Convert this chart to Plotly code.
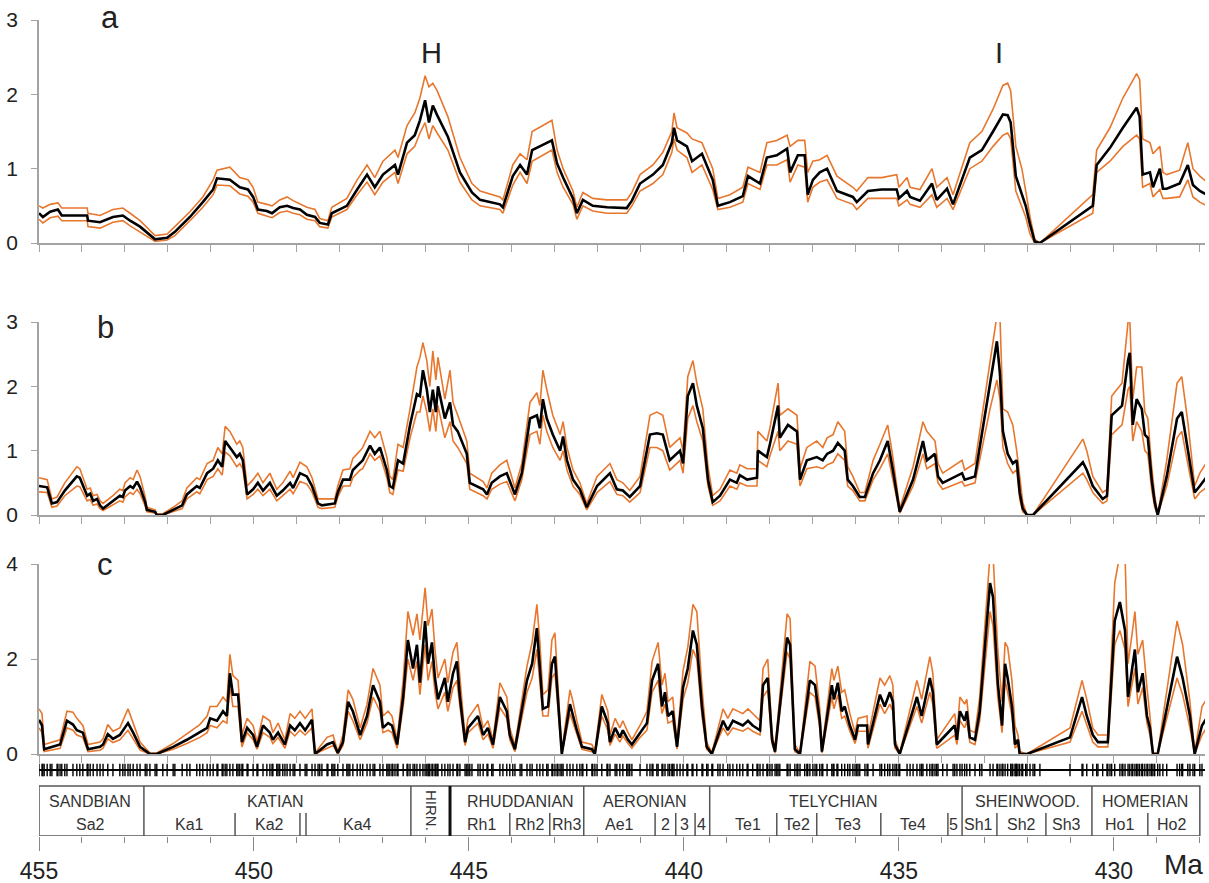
import plotly.graph_objects as go

# ---------------- data (ages in Ma) ----------------
age_a = [455.00,454.91,454.74,454.56,454.47,453.88,453.86,453.58,453.28,453.05,
452.88,452.65,452.30,452.02,451.84,451.49,451.19,450.95,450.86,450.56,
450.33,450.14,450.02,449.91,449.70,449.58,449.40,449.23,449.09,448.93,
448.77,448.58,448.47,448.28,448.19,447.84,447.60,447.37,447.19,447.00,
446.72,446.65,446.44,446.26,446.14,446.02,445.93,445.84,445.74,445.49,
445.21,444.93,444.74,444.28,444.21,443.98,443.81,443.65,443.53,443.28,
443.07,442.95,442.81,442.58,442.49,442.35,442.12,441.79,441.33,441.21,
441.02,440.72,440.49,440.28,440.23,440.16,439.93,439.81,439.58,439.33,
439.21,438.93,438.63,438.51,438.23,438.07,437.84,437.60,437.53,437.35,
437.19,437.12,437.00,436.84,436.67,436.44,436.07,435.98,435.72,435.40,
435.05,435.00,434.81,434.74,434.51,434.23,434.12,433.88,433.74,433.35,
433.07,432.81,432.58,432.47,432.40,432.28,432.14,432.05,431.95,431.84,
431.72,430.49,430.40,430.09,429.79,429.47,429.40,429.33,429.16,429.09,
428.93,428.86,428.77,428.47,428.28,428.16,428.00,427.84]
mid_a = [0.40,0.35,0.42,0.45,0.37,0.37,0.30,0.28,0.35,0.37,
0.30,0.22,0.05,0.07,0.15,0.35,0.55,0.72,0.87,0.85,
0.75,0.72,0.62,0.45,0.43,0.40,0.48,0.50,0.47,0.45,
0.38,0.35,0.27,0.25,0.40,0.50,0.72,0.92,0.75,0.92,
1.05,0.92,1.35,1.45,1.65,1.92,1.62,1.85,1.72,1.43,
0.95,0.68,0.58,0.52,0.48,0.90,1.05,0.92,1.25,1.32,
1.38,1.07,0.88,0.60,0.40,0.58,0.50,0.48,0.47,0.57,
0.80,0.92,1.05,1.35,1.55,1.38,1.30,1.10,1.20,0.85,
0.50,0.55,0.63,0.90,0.80,1.15,1.18,1.27,0.95,1.18,
1.18,0.65,0.85,0.95,1.00,0.70,0.62,0.55,0.70,0.72,
0.72,0.60,0.70,0.62,0.57,0.80,0.58,0.73,0.52,1.15,
1.25,1.50,1.73,1.72,1.62,0.90,0.65,0.50,0.25,0.02,
0.00,0.50,1.05,1.28,1.55,1.82,1.70,0.92,0.95,0.75,
1.00,0.73,0.73,0.80,1.05,0.78,0.70,0.65]
hi_a = [0.50,0.47,0.52,0.54,0.47,0.47,0.40,0.37,0.45,0.47,
0.40,0.30,0.10,0.12,0.22,0.42,0.62,0.85,0.98,1.02,
0.88,0.85,0.75,0.55,0.52,0.50,0.58,0.62,0.57,0.53,
0.48,0.45,0.33,0.30,0.48,0.60,0.85,1.05,0.88,1.10,
1.25,1.15,1.58,1.75,1.95,2.25,2.10,2.15,2.05,1.70,
1.15,0.80,0.70,0.62,0.58,1.05,1.20,1.12,1.50,1.58,
1.65,1.25,1.00,0.70,0.48,0.68,0.60,0.58,0.58,0.68,
0.92,1.05,1.22,1.50,1.75,1.55,1.48,1.40,1.35,1.00,
0.60,0.65,0.75,1.02,0.95,1.35,1.38,1.45,1.30,1.38,
1.38,0.95,1.10,1.12,1.18,0.90,0.75,0.70,0.88,0.88,
0.92,0.75,0.88,0.75,0.72,1.00,0.75,0.88,0.65,1.35,
1.50,1.80,2.12,2.15,2.05,1.30,1.00,0.70,0.35,0.05,
0.00,0.65,1.25,1.55,1.95,2.28,2.20,1.40,1.35,1.20,
1.30,0.95,0.92,0.98,1.35,1.00,0.90,0.82]
lo_a = [0.32,0.27,0.34,0.36,0.30,0.30,0.22,0.20,0.28,0.30,
0.23,0.15,0.02,0.04,0.10,0.30,0.48,0.65,0.78,0.77,
0.66,0.63,0.55,0.40,0.36,0.34,0.41,0.43,0.40,0.38,
0.32,0.30,0.22,0.20,0.35,0.45,0.65,0.82,0.65,0.82,
0.95,0.80,1.20,1.30,1.48,1.62,1.40,1.58,1.48,1.25,
0.82,0.58,0.50,0.45,0.40,0.78,0.95,0.80,1.10,1.18,
1.25,0.95,0.75,0.52,0.32,0.50,0.43,0.40,0.40,0.50,
0.70,0.80,0.92,1.22,1.40,1.25,1.15,0.95,1.05,0.72,
0.45,0.48,0.55,0.80,0.72,1.05,1.05,1.12,0.82,1.05,
1.02,0.55,0.75,0.82,0.85,0.60,0.52,0.45,0.60,0.60,
0.60,0.50,0.58,0.52,0.48,0.65,0.48,0.60,0.45,1.00,
1.10,1.30,1.45,1.48,1.40,0.70,0.50,0.35,0.12,0.00,
0.00,0.40,0.95,1.10,1.30,1.45,1.40,0.75,0.80,0.62,
0.72,0.60,0.60,0.62,0.85,0.62,0.55,0.50]

age_b = [455.00,454.81,454.70,454.58,454.40,454.12,454.05,453.88,453.81,453.74,
453.65,453.58,453.51,453.28,453.12,453.05,453.00,452.88,452.81,452.72,
452.65,452.53,452.49,452.30,452.26,452.12,451.88,451.67,451.56,451.33,
451.26,451.09,450.95,450.84,450.74,450.67,450.56,450.40,450.33,450.26,
450.16,450.02,449.91,449.79,449.63,449.47,449.33,449.16,449.09,448.93,
448.77,448.65,448.51,448.42,448.12,448.05,447.93,447.77,447.70,447.53,
447.47,447.30,447.19,447.07,447.00,446.91,446.84,446.77,446.65,446.53,
446.37,446.21,446.14,446.07,445.98,445.91,445.84,445.77,445.72,445.63,
445.56,445.44,445.37,445.26,445.05,444.98,444.67,444.58,444.47,444.28,
444.12,443.93,443.77,443.58,443.42,443.35,443.28,443.19,443.05,442.88,
442.81,442.72,442.58,442.42,442.26,442.02,441.72,441.56,441.42,441.26,
441.02,440.79,440.63,440.49,440.33,440.09,440.02,439.91,439.79,439.70,
439.56,439.44,439.33,439.16,438.93,438.77,438.70,438.53,438.30,438.28,
438.07,438.00,437.81,437.77,437.58,437.37,437.30,437.14,436.91,436.77,
436.67,436.53,436.42,436.26,436.19,436.07,435.91,435.79,435.60,435.44,
435.26,435.14,434.98,434.67,434.44,434.35,434.16,434.09,433.98,433.53,
433.47,433.23,432.88,432.72,432.65,432.58,432.47,432.35,432.26,432.19,
432.12,432.02,431.88,430.72,430.63,430.49,430.26,430.16,430.05,429.81,
429.67,429.63,429.56,429.47,429.35,429.28,429.21,429.12,429.05,428.98,
428.77,428.53,428.42,428.28,428.12,428.00,427.81]
mid_b = [0.45,0.43,0.18,0.20,0.38,0.60,0.58,0.30,0.33,0.22,
0.25,0.15,0.10,0.22,0.30,0.28,0.38,0.45,0.42,0.52,
0.43,0.20,0.08,0.05,0.00,0.00,0.08,0.15,0.32,0.45,
0.42,0.65,0.72,0.85,0.75,1.15,1.05,0.90,0.95,0.85,
0.32,0.40,0.50,0.38,0.50,0.30,0.38,0.50,0.42,0.65,
0.60,0.45,0.18,0.15,0.18,0.35,0.55,0.55,0.70,0.82,
0.85,1.08,0.95,1.05,0.90,0.70,0.45,0.42,0.85,0.80,
1.40,1.88,1.85,2.25,1.95,1.60,1.95,1.60,2.00,1.70,
1.50,1.75,1.40,1.30,0.95,0.50,0.40,0.32,0.50,0.60,
0.65,0.32,0.65,1.50,1.55,1.35,1.80,1.50,1.25,1.00,
1.22,0.85,0.55,0.40,0.12,0.45,0.65,0.40,0.38,0.28,
0.45,1.25,1.27,1.25,0.85,1.00,0.80,1.85,2.05,1.70,
1.35,0.55,0.20,0.30,0.55,0.50,0.62,0.55,0.58,1.00,
0.90,1.10,1.70,1.20,1.40,1.30,0.55,0.85,0.90,0.85,
0.95,1.00,1.12,1.00,0.55,0.45,0.28,0.28,0.65,0.85,
1.15,0.70,0.05,0.55,1.15,0.85,0.95,0.60,0.50,0.65,
0.55,0.60,2.00,2.70,2.20,1.30,0.95,0.80,0.85,0.35,
0.10,0.00,0.00,0.82,0.70,0.45,0.25,0.30,1.55,1.70,
2.40,2.52,1.40,1.80,1.65,1.25,1.20,0.55,0.20,0.00,
0.60,1.50,1.60,1.00,0.35,0.45,0.62]
hi_b = [0.58,0.55,0.25,0.28,0.50,0.75,0.72,0.40,0.42,0.30,
0.32,0.22,0.18,0.30,0.40,0.38,0.50,0.58,0.55,0.70,
0.60,0.28,0.12,0.08,0.02,0.02,0.12,0.22,0.42,0.58,
0.55,0.80,0.85,1.05,0.95,1.38,1.30,1.10,1.15,1.05,
0.45,0.55,0.65,0.50,0.65,0.40,0.50,0.68,0.58,0.82,
0.75,0.58,0.25,0.25,0.25,0.45,0.70,0.72,0.88,1.00,
1.05,1.30,1.20,1.30,1.12,0.90,0.60,0.55,1.10,1.05,
1.65,2.30,2.45,2.68,2.40,2.00,2.55,2.10,2.45,2.10,
1.80,2.25,1.75,1.55,1.15,0.65,0.52,0.42,0.65,0.78,
0.85,0.42,0.80,1.75,1.90,1.70,2.25,1.95,1.55,1.25,
1.45,1.05,0.70,0.50,0.18,0.60,0.80,0.55,0.50,0.38,
0.60,1.55,1.60,1.55,1.05,1.20,1.00,2.15,2.40,2.05,
1.65,0.75,0.30,0.40,0.70,0.65,0.78,0.72,0.72,1.30,
1.15,1.35,2.05,1.55,1.65,1.55,0.72,1.05,1.15,1.05,
1.20,1.25,1.45,1.30,0.75,0.60,0.35,0.35,0.85,1.10,
1.40,0.90,0.10,0.75,1.45,1.30,1.15,0.80,0.65,0.85,
0.70,0.80,2.40,3.10,3.10,1.65,1.60,1.40,1.00,0.55,
0.20,0.00,0.00,1.18,1.00,0.60,0.35,0.40,1.85,2.05,
3.00,3.05,1.80,2.30,2.30,1.60,1.50,0.75,0.30,0.00,
0.85,2.05,2.15,1.45,0.45,0.65,0.85]
lo_b = [0.36,0.35,0.12,0.14,0.30,0.45,0.44,0.22,0.24,0.15,
0.17,0.10,0.07,0.16,0.22,0.20,0.28,0.35,0.32,0.40,
0.33,0.14,0.05,0.03,0.00,0.00,0.05,0.10,0.25,0.36,
0.33,0.55,0.60,0.72,0.62,0.98,0.92,0.75,0.80,0.72,
0.25,0.32,0.40,0.30,0.40,0.22,0.30,0.40,0.33,0.52,
0.48,0.36,0.12,0.10,0.12,0.28,0.45,0.45,0.58,0.70,
0.72,0.95,0.85,0.92,0.78,0.58,0.35,0.32,0.70,0.68,
1.20,1.60,1.60,1.85,1.60,1.30,1.65,1.30,1.70,1.40,
1.20,1.45,1.15,1.05,0.80,0.40,0.30,0.25,0.40,0.48,
0.52,0.22,0.55,1.25,1.30,1.10,1.55,1.30,1.05,0.85,
1.00,0.70,0.45,0.32,0.08,0.35,0.52,0.32,0.30,0.20,
0.35,1.05,1.05,1.00,0.70,0.85,0.65,1.50,1.70,1.45,
1.15,0.45,0.15,0.22,0.45,0.40,0.50,0.45,0.45,0.85,
0.75,0.92,1.30,1.00,1.15,1.10,0.45,0.72,0.75,0.72,
0.78,0.82,0.95,0.85,0.45,0.38,0.22,0.22,0.55,0.72,
0.95,0.55,0.03,0.45,0.95,0.72,0.80,0.50,0.40,0.52,
0.45,0.50,1.65,2.10,1.80,1.05,0.80,0.65,0.70,0.25,
0.05,0.00,0.00,0.65,0.55,0.35,0.18,0.22,1.25,1.40,
1.95,2.00,1.15,1.45,1.30,1.00,0.95,0.40,0.12,0.00,
0.45,1.20,1.30,0.80,0.25,0.35,0.45]

age_c = [455.00,454.93,454.88,454.51,454.35,454.21,454.12,453.98,453.86,453.58,
453.51,453.40,453.28,453.12,452.93,452.81,452.65,452.42,452.26,451.88,
451.56,451.26,451.09,451.02,450.86,450.72,450.63,450.56,450.49,450.37,
450.28,450.16,450.02,449.93,449.79,449.63,449.56,449.44,449.28,449.16,
449.05,448.93,448.81,448.65,448.58,448.30,448.16,448.05,447.93,447.81,
447.70,447.53,447.37,447.23,447.07,447.00,446.88,446.79,446.67,446.53,
446.42,446.30,446.21,446.14,446.02,445.95,445.86,445.79,445.72,445.56,
445.49,445.37,445.28,445.21,445.09,445.02,444.79,444.67,444.56,444.44,
444.28,444.12,444.05,443.93,443.65,443.53,443.42,443.35,443.28,443.16,
443.07,443.00,442.93,442.84,442.65,442.58,442.49,442.37,442.14,442.07,
441.91,441.77,441.72,441.60,441.49,441.42,441.30,441.21,441.02,440.86,
440.74,440.60,440.51,440.44,440.37,440.26,440.16,440.02,439.91,439.79,
439.70,439.58,439.47,439.35,439.09,438.98,438.86,438.63,438.51,438.40,
438.23,438.16,438.05,437.95,437.88,437.60,437.53,437.42,437.30,437.07,
436.95,436.84,436.79,436.56,436.51,436.42,436.33,436.26,436.14,436.02,
435.95,435.74,435.72,435.44,435.33,435.21,435.14,435.09,434.98,434.58,
434.47,434.28,434.21,434.12,433.70,433.65,433.58,433.47,433.42,433.35,
433.23,433.12,432.88,432.81,432.70,432.60,432.53,432.47,432.37,432.30,
432.23,432.19,432.02,431.02,430.74,430.63,430.49,430.37,430.14,429.98,
429.86,429.74,429.67,429.58,429.51,429.44,429.33,429.23,429.16,429.09,
428.98,428.53,428.40,428.23,428.12,427.95,427.81]
mid_c = [0.72,0.60,0.10,0.20,0.70,0.62,0.50,0.45,0.10,0.15,
0.20,0.42,0.32,0.40,0.65,0.45,0.15,0.00,0.00,0.15,
0.30,0.45,0.55,0.75,0.70,0.90,0.80,1.70,1.25,1.25,
0.25,0.55,0.40,0.15,0.60,0.45,0.30,0.45,0.20,0.60,
0.50,0.65,0.50,0.72,0.00,0.20,0.25,0.02,0.25,1.10,
0.90,0.40,0.80,1.45,1.10,0.55,0.65,0.60,0.20,1.20,
2.40,1.80,2.30,1.50,2.80,1.90,2.35,1.60,1.15,1.60,
1.10,1.70,1.95,1.20,0.25,0.55,0.80,0.40,0.55,0.20,
1.20,0.90,0.40,0.10,1.55,1.90,2.65,1.80,0.95,1.00,
1.90,2.05,1.10,0.00,1.05,0.80,0.50,0.15,0.10,0.00,
1.00,0.65,0.25,0.55,0.35,0.50,0.30,0.20,0.45,0.65,
1.55,1.90,1.00,1.30,0.80,0.90,0.15,1.40,1.80,2.60,
2.30,1.00,0.15,0.00,0.70,0.50,0.70,0.60,0.70,0.60,
0.50,1.45,1.60,0.30,0.05,2.45,2.30,0.10,0.00,1.55,
1.45,0.70,0.05,1.45,1.15,1.50,0.90,1.00,0.60,0.30,
0.60,0.60,0.20,1.25,1.00,1.30,1.10,0.20,0.00,1.20,
0.80,1.60,1.30,0.20,0.60,0.30,0.90,0.70,0.90,0.35,
0.30,0.90,3.60,3.30,1.50,0.60,1.90,1.60,1.00,0.20,
0.30,0.00,0.00,0.35,1.20,0.80,0.40,0.25,0.25,2.80,
3.20,2.60,1.20,1.80,2.20,1.30,1.70,0.80,0.55,0.00,
0.00,2.05,1.60,0.80,0.00,0.60,0.80]
hi_c = [0.95,0.85,0.20,0.30,0.90,0.88,0.75,0.60,0.20,0.25,
0.32,0.62,0.48,0.55,0.95,0.65,0.25,0.02,0.02,0.22,
0.42,0.62,0.80,1.00,1.00,1.20,1.10,2.10,1.65,1.55,
0.40,0.75,0.60,0.25,0.80,0.70,0.45,0.65,0.30,0.85,
0.75,0.90,0.75,0.95,0.02,0.35,0.40,0.05,0.40,1.35,
1.15,0.55,1.05,1.80,1.45,0.80,0.90,0.80,0.30,1.55,
3.00,2.50,2.95,2.40,3.50,2.70,3.05,2.20,1.60,2.00,
1.50,2.15,2.35,1.55,0.35,0.75,1.05,0.55,0.70,0.30,
1.50,1.20,0.55,0.18,1.85,2.35,3.15,2.35,1.25,1.35,
2.40,2.55,1.50,0.05,1.35,1.10,0.70,0.25,0.20,0.05,
1.25,0.90,0.40,0.75,0.55,0.70,0.45,0.30,0.60,0.90,
1.95,2.35,1.45,1.70,1.10,1.20,0.25,1.75,2.25,3.15,
3.00,1.40,0.25,0.02,0.95,0.75,0.95,0.85,0.95,0.85,
0.70,1.80,2.00,0.45,0.10,2.95,2.85,0.20,0.02,1.95,
1.85,0.95,0.10,1.80,1.55,1.85,1.30,1.35,0.85,0.45,
0.75,0.80,0.35,1.60,1.45,1.65,1.45,0.30,0.02,1.55,
1.15,2.05,1.70,0.30,0.85,0.45,1.20,1.05,1.15,0.50,
0.45,1.20,4.20,4.20,2.20,1.10,2.35,2.25,1.55,0.60,
0.40,0.05,0.00,0.55,1.55,1.15,0.55,0.40,0.40,3.60,
4.20,4.20,1.90,2.50,3.00,2.10,2.40,1.40,0.80,0.02,
0.02,2.80,2.30,1.10,0.02,1.00,1.20]
lo_c = [0.55,0.45,0.05,0.12,0.55,0.50,0.40,0.35,0.05,0.08,
0.12,0.32,0.24,0.30,0.50,0.32,0.08,0.00,0.00,0.10,
0.22,0.35,0.45,0.60,0.55,0.70,0.65,1.45,1.00,1.00,
0.15,0.45,0.30,0.10,0.45,0.35,0.22,0.35,0.12,0.48,
0.38,0.50,0.40,0.55,0.00,0.12,0.18,0.00,0.18,0.90,
0.70,0.30,0.65,1.20,0.90,0.45,0.50,0.45,0.12,1.00,
2.00,1.55,1.95,1.25,2.30,1.55,1.95,1.30,0.95,1.30,
0.90,1.40,1.55,1.00,0.18,0.45,0.65,0.30,0.42,0.12,
0.98,0.75,0.30,0.05,1.30,1.60,2.20,1.50,0.80,0.80,
1.60,1.70,0.90,0.00,0.85,0.65,0.40,0.10,0.05,0.00,
0.80,0.50,0.18,0.42,0.25,0.38,0.22,0.12,0.35,0.50,
1.30,1.55,0.85,1.05,0.65,0.70,0.10,1.15,1.50,2.20,
2.00,0.80,0.10,0.00,0.55,0.40,0.55,0.48,0.55,0.48,
0.40,1.20,1.35,0.22,0.02,2.15,2.00,0.05,0.00,1.30,
1.20,0.55,0.02,1.20,0.95,1.25,0.75,0.80,0.48,0.22,
0.48,0.48,0.12,1.05,0.85,1.05,0.90,0.12,0.00,1.00,
0.65,1.30,1.05,0.12,0.40,0.20,0.70,0.55,0.70,0.25,
0.20,0.70,3.00,2.70,1.20,0.45,1.55,1.30,0.80,0.12,
0.20,0.00,0.00,0.25,0.90,0.60,0.25,0.15,0.15,2.30,
2.60,2.20,1.00,1.45,1.80,1.05,1.40,0.65,0.40,0.00,
0.00,1.60,1.25,0.55,0.00,0.40,0.60]

# stratigraphy
stage_bounds = [452.56, 446.35, 442.33, 439.40, 433.53, 430.51]
hirn_base = 445.44
substage_bounds = [450.44, 448.93, 448.79, 444.05, 443.12, 440.67, 440.19, 439.74,
                   437.84, 436.91, 435.42, 433.86, 432.72, 431.58, 429.21]
stage_names = ["SANDBIAN", "KATIAN", "RHUDDANIAN", "AERONIAN", "TELYCHIAN", "SHEINWOOD.", "HOMERIAN"]
stage_pos = [453.81, 449.51, 443.81, 440.91, 436.51, 432.02, 429.28]
sub_names = ["Sa2", "Ka1", "Ka2", "Ka4", "Rh1", "Rh2", "Rh3", "Ae1", "2", "3", "4",
             "Te1", "Te2", "Te3", "Te4", "5", "Sh1", "Sh2", "Sh3", "Ho1", "Ho2"]
sub_pos = [453.81, 451.49, 449.65, 447.60, 444.70, 443.58, 442.72, 441.49, 440.42, 439.98, 439.58,
           438.51, 437.37, 436.19, 434.67, 433.72, 433.14, 432.14, 431.09, 429.86, 428.65]
hirn_label_pos = 445.86
column_end = 428.0
rug_ages = sorted(set(age_a + age_b + age_c))

XR = [455.0, 427.88]
W, H = 1209, 883
ML, MR = 39, 4
ORANGE = "#E8772E"
GRAY = "#A3A3A3"
FONT = "Liberation Sans, Arial, sans-serif"

def pdom(top_px, bot_px):
    return [1 - bot_px / H, 1 - top_px / H]

fig = go.Figure()

panels = [
    ("x", "y", age_a, mid_a, hi_a, lo_a),
    ("x2", "y2", age_b, mid_b, hi_b, lo_b),
    ("x3", "y3", age_c, mid_c, hi_c, lo_c),
]
for xa, ya, ag, md, hi, lo in panels:
    fig.add_trace(go.Scatter(x=ag, y=lo, mode="lines", line=dict(color=ORANGE, width=1.6),
                             xaxis=xa, yaxis=ya, showlegend=False, hoverinfo="skip"))
    fig.add_trace(go.Scatter(x=ag, y=hi, mode="lines", line=dict(color=ORANGE, width=1.6),
                             xaxis=xa, yaxis=ya, showlegend=False, hoverinfo="skip"))
    fig.add_trace(go.Scatter(x=ag, y=md, mode="lines", line=dict(color="black", width=2.6),
                             xaxis=xa, yaxis=ya, showlegend=False, hoverinfo="skip"))

RUG_Y = 1.32
fig.add_trace(go.Scatter(x=rug_ages, y=[RUG_Y] * len(rug_ages), mode="markers",
                         marker=dict(symbol="line-ns-open", size=9, color="black",
                                     line=dict(color="black", width=1.4)),
                         xaxis="x4", yaxis="y4", showlegend=False, hoverinfo="skip"))

xcommon = dict(range=XR, showline=True, linecolor=GRAY, linewidth=1.5, ticks="outside",
               tick0=455, dtick=1, ticklen=7, tickwidth=1.3, tickcolor=GRAY,
               showticklabels=False, showgrid=False, zeroline=False, domain=[0, 1],
               automargin=False)
ycommon = dict(showline=True, linecolor=GRAY, linewidth=1.5, ticks="outside", ticklen=6,
               tickwidth=1.3, tickcolor=GRAY, showgrid=False, zeroline=False, automargin=False,
               tickfont=dict(family=FONT, size=21, color="#222"), ticklabelstandoff=9)

fig.update_layout(
    width=W, height=H, margin=dict(l=ML, r=MR, t=0, b=0, autoexpand=False),
    paper_bgcolor="white", plot_bgcolor="white", showlegend=False,
    xaxis=dict(anchor="y", **xcommon),
    xaxis2=dict(anchor="y2", **xcommon),
    xaxis3=dict(anchor="y3", **xcommon),
    xaxis4=dict(anchor="y4", range=XR, domain=[0, 1], showline=False, showgrid=False, zeroline=False,
                automargin=False,
                ticks="outside", tick0=455, dtick=5, ticklen=14, tickwidth=1.3, tickcolor="#888",
                minor=dict(ticks="outside", tick0=455, dtick=1, ticklen=6, tickwidth=1.3, tickcolor="#888"),
                tickfont=dict(family=FONT, size=23, color="#222"), ticklabelstandoff=0),
    yaxis=dict(anchor="x", domain=pdom(20, 243), range=[0, 3], tickvals=[0, 1, 2, 3], **ycommon),
    yaxis2=dict(anchor="x2", domain=pdom(322, 515), range=[0, 3], tickvals=[0, 1, 2, 3], **ycommon),
    yaxis3=dict(anchor="x3", domain=pdom(564, 754), range=[0, 4], tickvals=[0, 2, 4], **ycommon),
    yaxis4=dict(anchor="x4", domain=pdom(762, 836), range=[0, 1.48], visible=False, automargin=False),
)

shapes = []
box_line = dict(color="#555", width=1.5)
shapes.append(dict(type="rect", xref="x4", yref="y4", x0=XR[0], x1=column_end, y0=0, y1=1, line=box_line))
for b in stage_bounds:
    shapes.append(dict(type="line", xref="x4", yref="y4", x0=b, x1=b, y0=0, y1=1, line=box_line))
for b in substage_bounds:
    shapes.append(dict(type="line", xref="x4", yref="y4", x0=b, x1=b, y0=0, y1=0.46, line=box_line))
shapes.append(dict(type="line", xref="x4", yref="y4", x0=hirn_base, x1=hirn_base, y0=-0.05, y1=1,
                   line=dict(color="#111", width=3)))
shapes.append(dict(type="line", xref="x4", yref="y4", x0=XR[0] + 0.05, x1=XR[1], y0=RUG_Y, y1=RUG_Y,
                   line=dict(color="black", width=2)))
fig.update_layout(shapes=shapes)

CTR = dict(xanchor="center", yanchor="middle", showarrow=False)
ann = []
for n, p in zip(stage_names, stage_pos):
    ann.append(dict(x=p, y=0.70, xref="x4", yref="y4", text=n,
                    font=dict(family=FONT, size=16, color="#333"), **CTR))
for n, p in zip(sub_names, sub_pos):
    ann.append(dict(x=p, y=0.24, xref="x4", yref="y4", text=n,
                    font=dict(family=FONT, size=16, color="#333"), **CTR))
ann.append(dict(x=hirn_label_pos, y=0.5, xref="x4", yref="y4", text="HIRN.", textangle=90,
                font=dict(family=FONT, size=15, color="#333"), **CTR))
ann.append(dict(x=(1183 - ML) / (W - ML - MR), y=1 - 864 / H, xref="paper", yref="paper", text="Ma",
                font=dict(family=FONT, size=28, color="#222"), **CTR))
for t, px, py in [("a", 110, 17), ("b", 105, 327), ("c", 105, 564)]:
    ann.append(dict(x=(px - ML) / (W - ML - MR), y=1 - py / H, xref="paper", yref="paper", text=t,
                    font=dict(family=FONT, size=31, color="#222"), **CTR))
ann.append(dict(x=445.86, y=1 - 53 / H, xref="x", yref="paper", text="H",
                font=dict(family=FONT, size=29, color="#222"), **CTR))
ann.append(dict(x=432.67, y=1 - 53 / H, xref="x", yref="paper", text="I",
                font=dict(family=FONT, size=29, color="#222"), **CTR))
fig.update_layout(annotations=ann)

fig.write_html("out.html", config={"displayModeBar": False},
               post_script="document.body.style.margin='0px';")
